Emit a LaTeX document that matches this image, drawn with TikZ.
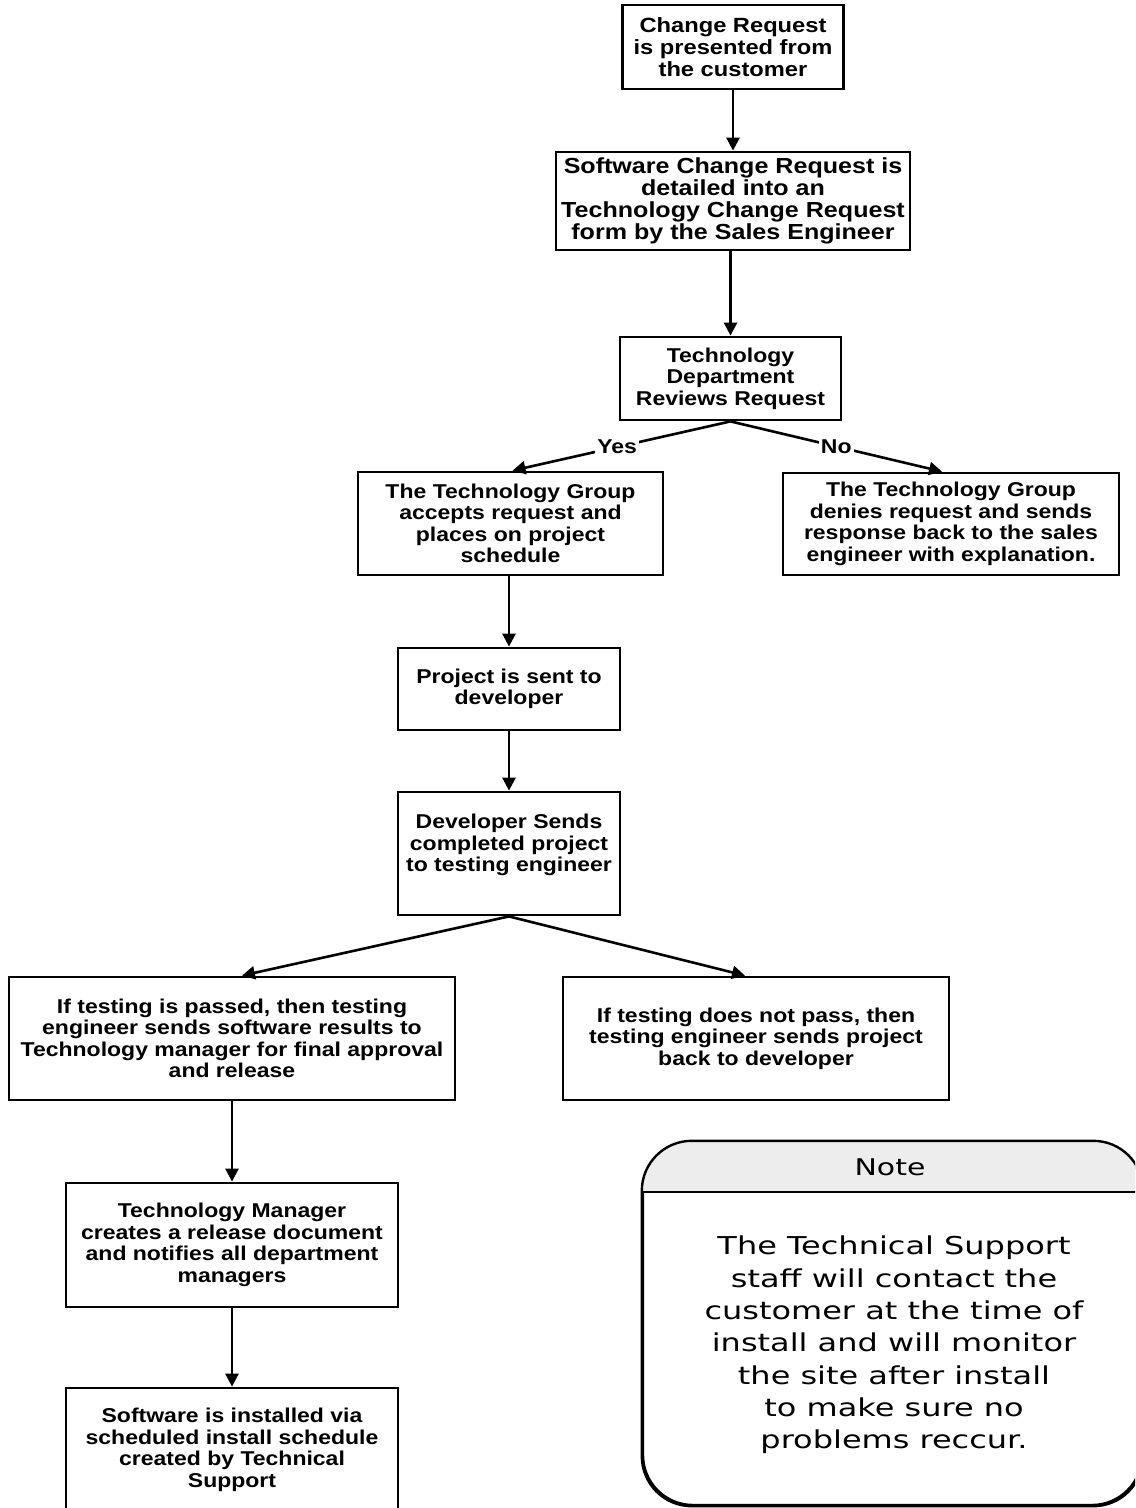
\documentclass[tikz,border=0pt]{standalone}
\usepackage{fontspec}
\setmainfont{Liberation Sans}
\newfontfamily\boxfont{Liberation Sans}[FakeStretch=1.15]
\newfontfamily\notefont{DejaVu Sans}[FakeStretch=1.3]
\usetikzlibrary{arrows.meta}

\begin{document}
\begin{tikzpicture}[x=0.5pt,y=-0.5pt,
  stepbox/.style={draw, line width=1.4pt, align=center, inner sep=0pt,
    font=\boxfont\bfseries\fontsize{10}{10.75}\selectfont},
  flow/.style={line width=1.3pt, -{Triangle[width=6.5pt,length=6.5pt]}},
  branch/.style={fill=white, inner sep=1pt,
    font=\boxfont\bfseries\fontsize{10}{10.75}\selectfont},
  notebox/.style={draw, line width=1.2pt, rounded corners=25pt, inner sep=0pt}]

\useasboundingbox (0,0) rectangle (1135,1508);
\clip (0,0) rectangle (1135,1508);
\fill[white] (0,0) rectangle (1135,1508);

% process steps
\node[stepbox, minimum width=110.5pt, minimum height=42pt,
  font=\boxfont\bfseries\fontsize{10.3}{10.9}\selectfont] (n1) at (733,47)
  {Change Request\\is presented from\\the customer};
\node[stepbox, minimum width=177pt, minimum height=49pt,
  font=\boxfont\bfseries\fontsize{10.9}{11.1}\selectfont] (n2) at (733,201)
  {Software Change Request is\\detailed into an\\Technology Change Request\\form by the Sales Engineer};
\node[stepbox, minimum width=110.5pt, minimum height=41.5pt] (n3) at (730.5,378.5)
  {Technology\\Department\\Reviews Request};
\node[stepbox, minimum width=152.5pt, minimum height=51.5pt] (n4) at (510.5,523.5)
  {The Technology Group\\accepts request and\\places on project\\schedule};
\node[stepbox, minimum width=168pt, minimum height=51pt] (n5) at (951,524)
  {The Technology Group\\denies request and sends\\response back to the sales\\engineer with explanation.};
\node[stepbox, minimum width=111pt, minimum height=41pt] (n6) at (509,689)
  {Project is sent to\\developer};
\node[stepbox, minimum width=111pt, minimum height=61.5pt] (n7) at (509,853.5)
  {Developer Sends\\completed project\\to testing engineer\\\mbox{}};
\node[stepbox, minimum width=223pt, minimum height=61.5pt] (n8) at (232,1038.5)
  {If testing is passed, then testing\\engineer sends software results to\\Technology manager for final approval\\and release};
\node[stepbox, minimum width=193pt, minimum height=61.5pt] (n9) at (756,1038.5)
  {If testing does not pass, then\\testing engineer sends project\\back to developer};
\node[stepbox, minimum width=166pt, minimum height=62pt] (n10) at (232,1245)
  {Technology Manager\\creates a release document\\and notifies all department\\managers};
\node[stepbox, minimum width=166pt, minimum height=62pt] (n11) at (232,1450)
  {Software is installed via\\scheduled install schedule\\created by Technical\\Support};

% connectors
\draw[flow] (n1.south -| n2.north) -- (n2.north);
\draw[flow] (n2.south -| n3.north) -- (n3.north);
\draw[flow] (n3.south) -- node[branch, pos=0.52] {Yes} ([xshift=1pt]n4.north);
\draw[flow] (n3.south) -- node[branch, pos=0.5] {No} ([xshift=-4.5pt]n5.north);
\draw[flow] (n4.south -| n6.north) -- (n6.north);
\draw[flow] (n6.south) -- (n7.north);
\draw[flow] (n7.south) -- ([xshift=5pt]n8.north);
\draw[flow] (n7.south) -- ([xshift=-5.5pt]n9.north);
\draw[flow] (n8.south) -- (n10.north);
\draw[flow] (n10.south) -- (n11.north);

% note card with shaded title band
\node[notebox, minimum width=249.5pt, minimum height=181.5pt] (note) at (892.5,1323.5) {};
\begin{scope}
  \clip (600,1100) rectangle (1200,1192);
  \fill[gray!14, rounded corners=25pt] (note.north west) rectangle (note.south east);
\end{scope}
\draw[line width=1.2pt, rounded corners=25pt] (note.north west) rectangle (note.south east);
\draw[line width=1.2pt] (note.west |- 0,1192) -- (note.east |- 0,1192);
\node[font=\notefont\fontsize{11.5}{12}\selectfont, inner sep=0pt] (notetitle) at (890,1167) {Note};
\node[font=\notefont\fontsize{12.3}{16.15}\selectfont, align=center, inner sep=0pt] (notetext) at (894,1345)
  {The Technical Support\\staff will contact the\\customer at the time of\\install and will monitor\\the site after install\\to make sure no\\problems reccur.};
\end{tikzpicture}
\end{document}
